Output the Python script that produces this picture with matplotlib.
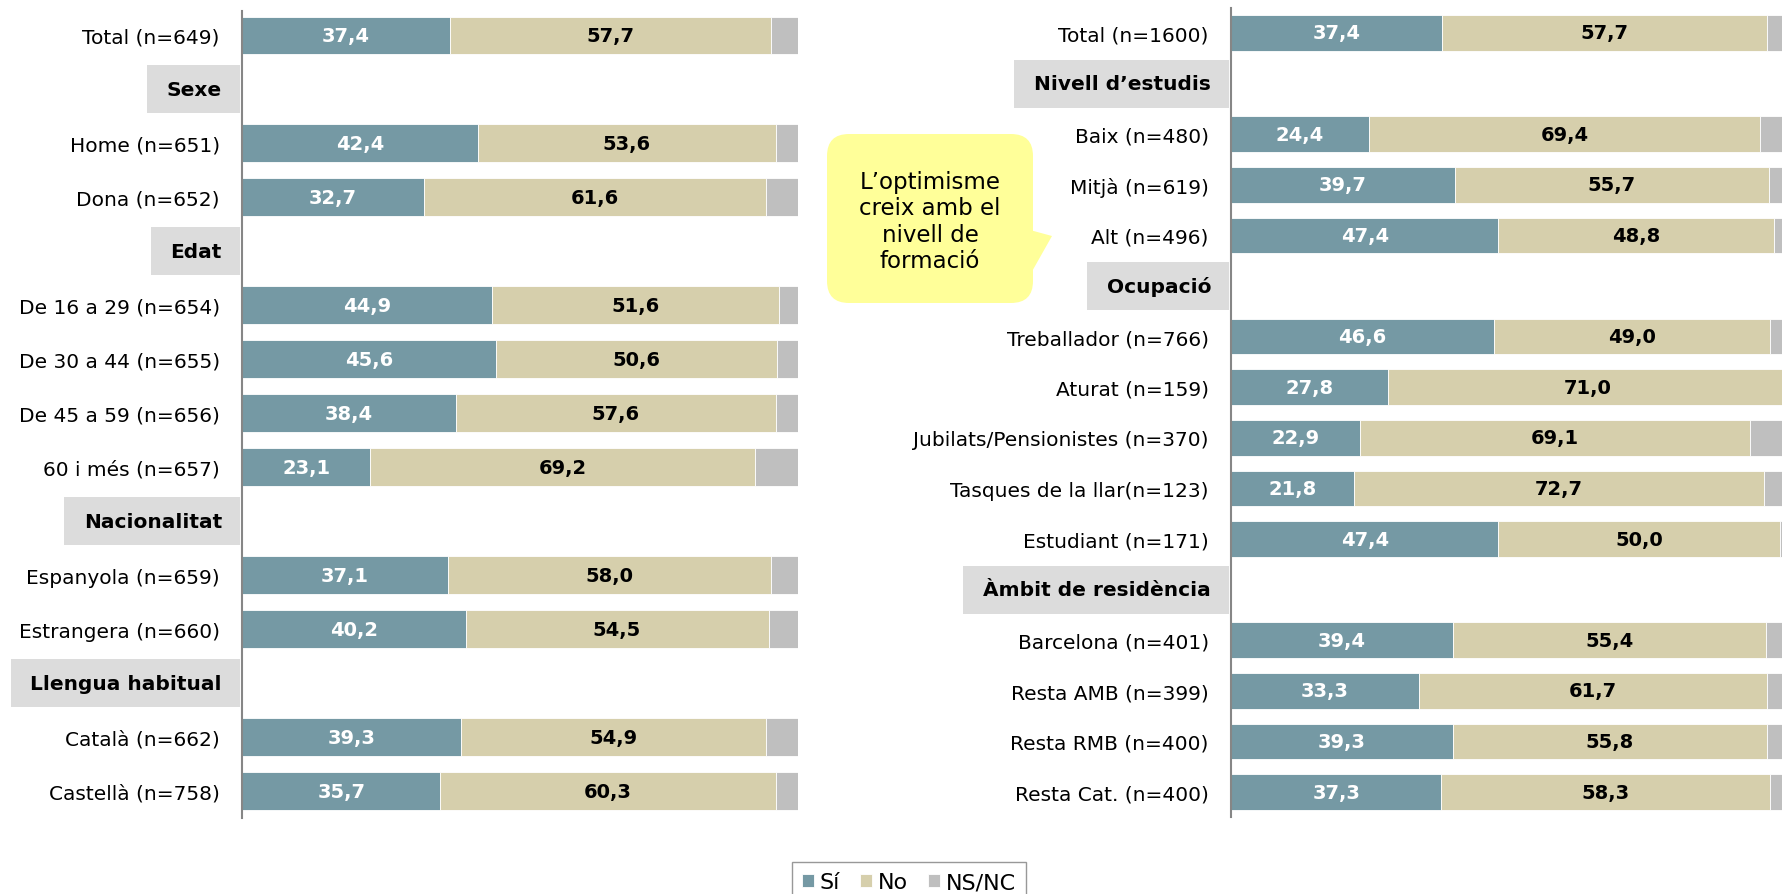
import numpy as np
import matplotlib
matplotlib.use('Agg')
import matplotlib.pyplot as plt
from matplotlib.patches import Rectangle, FancyBboxPatch, Polygon
from matplotlib.transforms import IdentityTransform

plt.rcParams['font.family'] = ['DejaVu Sans']

nan = np.nan

# panell esquerre
left_rows = ['Total (n=649)', 'Sexe', 'Home (n=651)', 'Dona (n=652)', 'Edat',
             'De 16 a 29 (n=654)', 'De 30 a 44 (n=655)', 'De 45 a 59 (n=656)',
             '60 i més (n=657)', 'Nacionalitat', 'Espanyola (n=659)',
             'Estrangera (n=660)', 'Llengua habitual', 'Català (n=662)',
             'Castellà (n=758)']
left_headers = ['Sexe', 'Edat', 'Nacionalitat', 'Llengua habitual']
left_si = [37.4, nan, 42.4, 32.7, nan, 44.9, 45.6, 38.4, 23.1, nan, 37.1, 40.2, nan, 39.3, 35.7]
left_no = [57.7, nan, 53.6, 61.6, nan, 51.6, 50.6, 57.6, 69.2, nan, 58.0, 54.5, nan, 54.9, 60.3]
left_ns = [4.9, nan, 4.0, 5.7, nan, 3.5, 3.8, 4.0, 7.7, nan, 4.9, 5.3, nan, 5.8, 4.0]

# panell dret
right_rows = ['Total (n=1600)', 'Nivell d’estudis', 'Baix (n=480)', 'Mitjà (n=619)',
              'Alt (n=496)', 'Ocupació', 'Treballador (n=766)', 'Aturat (n=159)',
              'Jubilats/Pensionistes (n=370)', 'Tasques de la llar(n=123)',
              'Estudiant (n=171)', 'Àmbit de residència', 'Barcelona (n=401)',
              'Resta AMB (n=399)', 'Resta RMB (n=400)', 'Resta Cat. (n=400)']
right_headers = ['Nivell d’estudis', 'Ocupació', 'Àmbit de residència']
right_si = [37.4, nan, 24.4, 39.7, 47.4, nan, 46.6, 27.8, 22.9, 21.8, 47.4, nan, 39.4, 33.3, 39.3, 37.3]
right_no = [57.7, nan, 69.4, 55.7, 48.8, nan, 49.0, 71.0, 69.1, 72.7, 50.0, nan, 55.4, 61.7, 55.8, 58.3]
right_ns = [4.9, nan, 6.2, 4.6, 3.8, nan, 4.4, 1.2, 8.0, 5.5, 2.6, nan, 5.2, 5.0, 4.9, 4.4]

series_names = ['Sí', 'No', 'NS/NC']
colors = ['#7599a4', '#d6cfac', '#bfbfbf']

W, H = 1782, 895
fig = plt.figure(figsize=(W / 100, H / 100), dpi=100)

def fmt(v):
    return f'{v:.1f}'.replace('.', ',')

def panel(rect_px, ylim, rows, headers, si, no, ns):
    x0, y_top, w, y_bot = rect_px
    ax = fig.add_axes([x0 / W, 1 - y_bot / H, w / W, (y_bot - y_top) / H])
    y = np.arange(len(rows))
    si = np.array(si); no = np.array(no); ns = np.array(ns)
    kw = dict(height=0.7, edgecolor='white', linewidth=0.6)
    b1 = ax.barh(y, si, color=colors[0], **kw)
    b2 = ax.barh(y, no, left=si, color=colors[1], **kw)
    b3 = ax.barh(y, ns, left=si + no, color=colors[2], **kw)
    for i in range(len(rows)):
        if np.isnan(si[i]):
            continue
        ax.text(si[i] / 2, i, fmt(si[i]), ha='center', va='center',
                color='white', fontweight='bold', fontsize=14)
        ax.text(si[i] + no[i] / 2, i, fmt(no[i]), ha='center', va='center',
                color='black', fontweight='bold', fontsize=14)
    ax.set_xlim(0, 100)
    ax.set_ylim(*ylim)
    ax.set_yticks(y)
    ax.set_yticklabels(['' if r in headers else r for r in rows], fontsize=14.5)
    ax.tick_params(axis='y', length=0, pad=16)
    ax.set_xticks([])
    for s in ['top', 'right', 'bottom']:
        ax.spines[s].set_visible(False)
    ax.spines['left'].set_color('#868686')
    ax.spines['left'].set_linewidth(1.5)
    htexts = []
    for i, r in enumerate(rows):
        if r in headers:
            t = ax.annotate(r, xy=(0, i), xycoords=('axes fraction', 'data'),
                            xytext=(-20, 0), textcoords='offset pixels',
                            ha='right', va='center', fontsize=14.5,
                            fontweight='bold', annotation_clip=False)
            htexts.append((t, i))
    return ax, (b1, b2, b3), htexts

axL, bars, hL = panel((242, 12, 556, 819), (14.5, -0.452), left_rows, left_headers,
                      left_si, left_no, left_ns)
axR, _, hR = panel((1231, 9, 564, 818), (15.494, -0.494), right_rows, right_headers,
                   right_si, right_no, right_ns)

# caixes grises dels encapçalaments
fig.canvas.draw()
r = fig.canvas.get_renderer()
for ax, hs in [(axL, hL), (axR, hR)]:
    axis_x = ax.get_window_extent(r).x0
    for t, i in hs:
        bb = t.get_window_extent(r)
        yc = ax.transData.transform((0, i))[1]
        x0 = bb.x0 - 20
        fig.add_artist(Rectangle((x0, yc - 24), axis_x - 2 - x0, 48,
                                 transform=IdentityTransform(),
                                 facecolor='#dcdcdc', edgecolor='none', zorder=-1))

# globus de text
ov = fig.add_axes([0, 0, 1, 1], zorder=-2)
ov.set_xlim(0, W)
ov.set_ylim(H, 0)
ov.axis('off')
ov.add_patch(FancyBboxPatch((827, 135), 206, 169,
                            boxstyle='round,pad=0,rounding_size=22',
                            facecolor='#ffff99', edgecolor='none'))
ov.add_patch(Polygon([(1030, 231), (1052, 237), (1030, 276)],
                     closed=True, facecolor='#ffff99', edgecolor='none'))
ov.text(930, 222, 'L’optimisme\ncreix amb el\nnivell de\nformació', ha='center',
        va='center', fontsize=16.5, linespacing=1.18)

fig.legend(bars, series_names, loc='upper center',
           bbox_to_anchor=(909 / W, 1 - 852 / H), ncol=3, frameon=True,
           fancybox=False, edgecolor='#7f7f7f', handlelength=0.55,
           handleheight=0.55, handletextpad=0.25, columnspacing=0.9,
           fontsize=16, borderpad=0.45)

fig.savefig('out.png', dpi=100)
